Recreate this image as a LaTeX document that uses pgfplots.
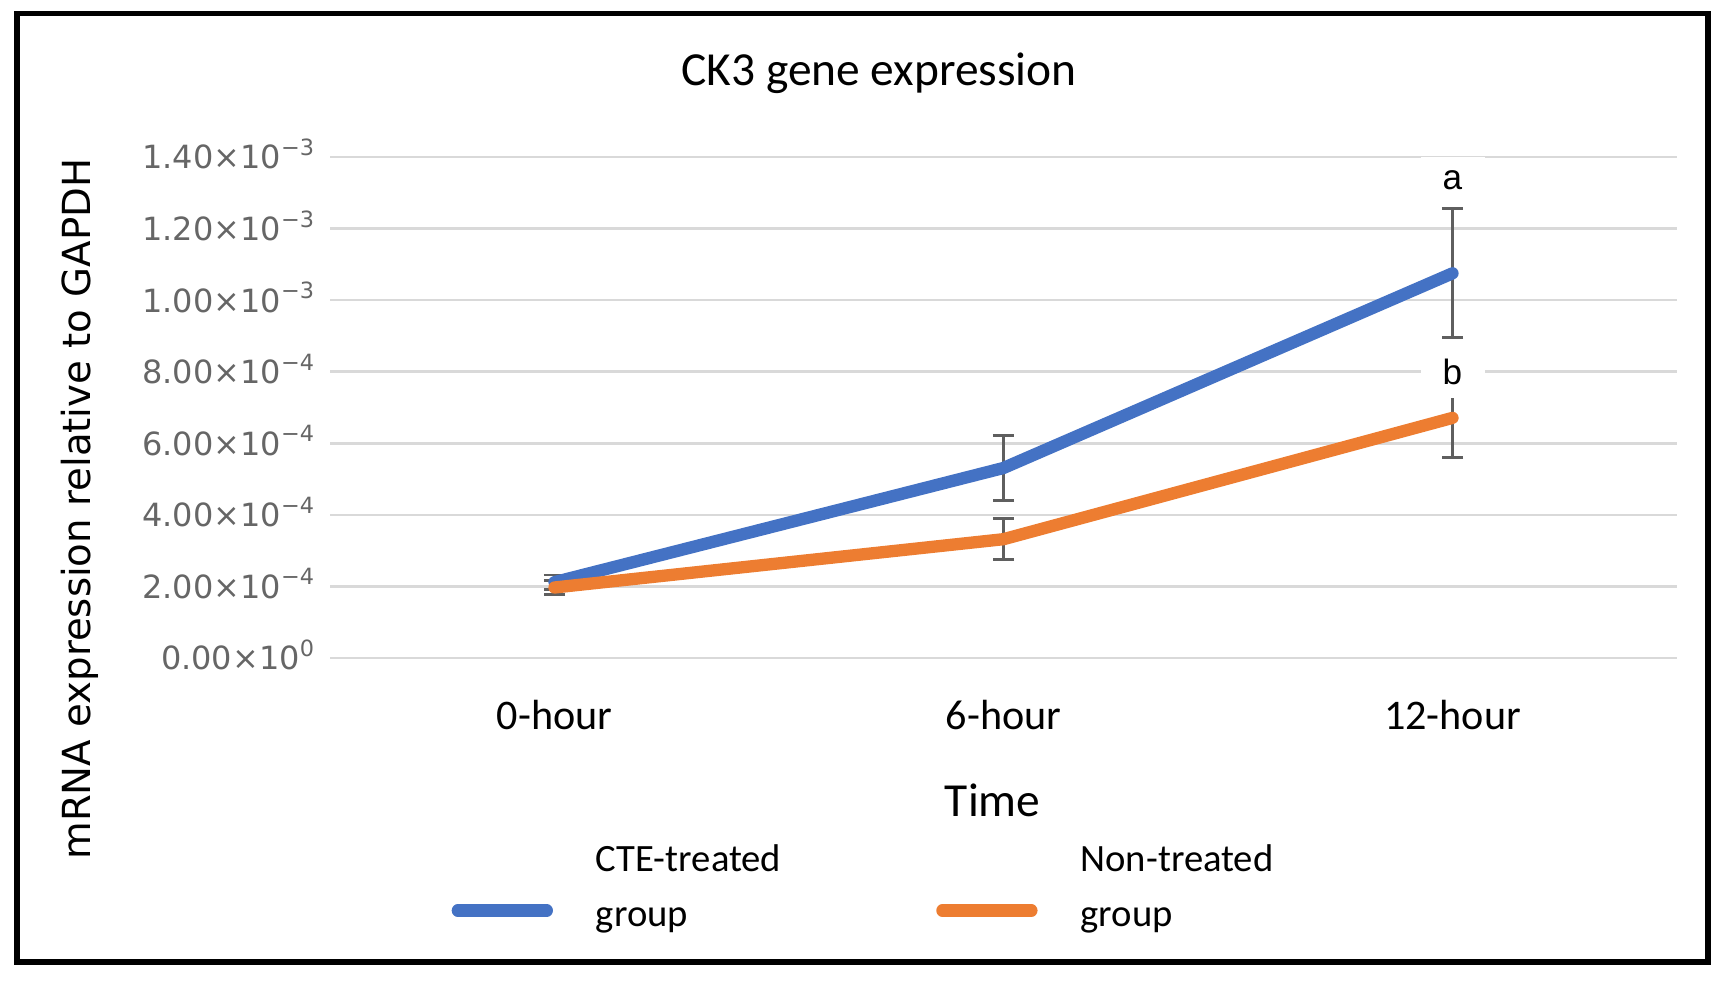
\documentclass[border=0pt]{standalone}
\usepackage{pgfplots}
\pgfplotsset{compat=1.18}
\usepackage{fontspec}
\setmainfont{Carlito}
\newfontfamily\dejavu{DejaVu Sans}
\newfontfamily\arialf{Liberation Sans}
\definecolor{cteblue}{HTML}{4472C4}
\definecolor{nonorange}{HTML}{ED7D31}
\definecolor{gridgray}{HTML}{D9D9D9}
\definecolor{errgray}{HTML}{5F5F5F}
\definecolor{tickgray}{HTML}{666666}
\pgfplotsset{every axis title shift=0pt}

\pgfplotstableread{
x y e
0 2.12e-4 0.20e-4
1 5.31e-4 0.90e-4
2 1.075e-3 1.80e-4
}\cte
\pgfplotstableread{
x y e
0 1.97e-4 0.20e-4
1 3.32e-4 0.57e-4
2 6.71e-4 1.10e-4
}\non

\begin{document}
\begin{tikzpicture}
\path (0,0) rectangle (172.8mm,-98.2mm);
\draw[line width=0.55mm] (1.7mm,-1.35mm) rectangle (170.8mm,-96.2mm);
\begin{axis}[
  at={(33mm,-65.8mm)}, anchor=south west,
  scale only axis, width=134.7mm, height=50.1mm,
  xmin=-0.5, xmax=2.5, ymin=0, ymax=0.0014,
  axis line style={draw=none}, tick style={draw=none}, major tick length=0pt,
  ymajorgrids, grid style={draw=gridgray, line width=0.75pt},
  scaled y ticks=false,
  xtick={0,1,2}, xticklabels={0-hour,6-hour,12-hour},
  xticklabel style={font=\fontsize{12}{14}\selectfont, anchor=north, yshift=-8.5pt},
  ytick={0,0.0002,0.0004,0.0006,0.0008,0.001,0.0012,0.0014},
  yticklabels={0.00×10\textsuperscript{0},2.00×10\textsuperscript{−4},4.00×10\textsuperscript{−4},6.00×10\textsuperscript{−4},8.00×10\textsuperscript{−4},1.00×10\textsuperscript{−3},1.20×10\textsuperscript{−3},1.40×10\textsuperscript{−3}},
  yticklabel style={font=\dejavu\fontsize{9.1}{11}\selectfont, text=tickgray, anchor=base east, yshift=-3.4pt, xshift=-0.5pt},
  title={CK3 gene expression},
  title style={at={(axis description cs:0.4076,1.168)}, anchor=center, font=\fontsize{13.5}{16}\selectfont},
  xlabel={Time},
  xlabel style={at={(axis description cs:0.492,-0.285)}, anchor=center, font=\fontsize{13.5}{16}\selectfont},
  ylabel={mRNA expression relative to GAPDH},
  ylabel style={at={(axis description cs:-0.186,0.297)}, anchor=center, font=\dejavu\fontsize{11}{13}\selectfont},
  legend columns=2, legend cell align=left,
  legend image code/.code={\draw (0.5mm,-6.4pt) -- (9.4mm,-6.4pt);},
  legend style={at={(axis description cs:0.0898,-0.357)}, anchor=north west, draw=none, fill=none, inner sep=0pt,
    column sep=3.6mm, /tikz/every even column/.append style={column sep=14.8mm},
    nodes={align=left, font=\fontsize{11}{15.6}\selectfont}},
]
% error bars underneath the lines
\addplot[forget plot, draw=none, mark=none,
  error bars/.cd, y dir=both, y explicit,
  error bar style={draw=errgray, line width=0.8pt},
  error mark options={rotate=90, mark size=3pt, draw=errgray, line width=0.8pt}]
  table[x=x, y=y, y error=e] {\cte};
\addplot[forget plot, draw=none, mark=none,
  error bars/.cd, y dir=both, y explicit,
  error bar style={draw=errgray, line width=0.8pt},
  error mark options={rotate=90, mark size=3pt, draw=errgray, line width=0.8pt}]
  table[x=x, y=y, y error=e] {\non};
\addplot[cteblue, line width=3.5pt, line cap=round, line join=round, mark=none] table[x=x, y=y] {\cte};
\addplot[nonorange, line width=3.5pt, line cap=round, line join=round, mark=none] table[x=x, y=y] {\non};
\legend{CTE-treated\\group, Non-treated\\group}
\node[fill=white, minimum width=6.4mm, minimum height=5mm, inner sep=0pt, font=\arialf\fontsize{10}{12}\selectfont] at (axis cs:2,1.335e-3) {a};
\node[fill=white, minimum width=6.4mm, minimum height=5.2mm, inner sep=0pt, font=\arialf\fontsize{10}{12}\selectfont] at (axis cs:2,8.0e-4) {b};
\end{axis}
\end{tikzpicture}
\end{document}
